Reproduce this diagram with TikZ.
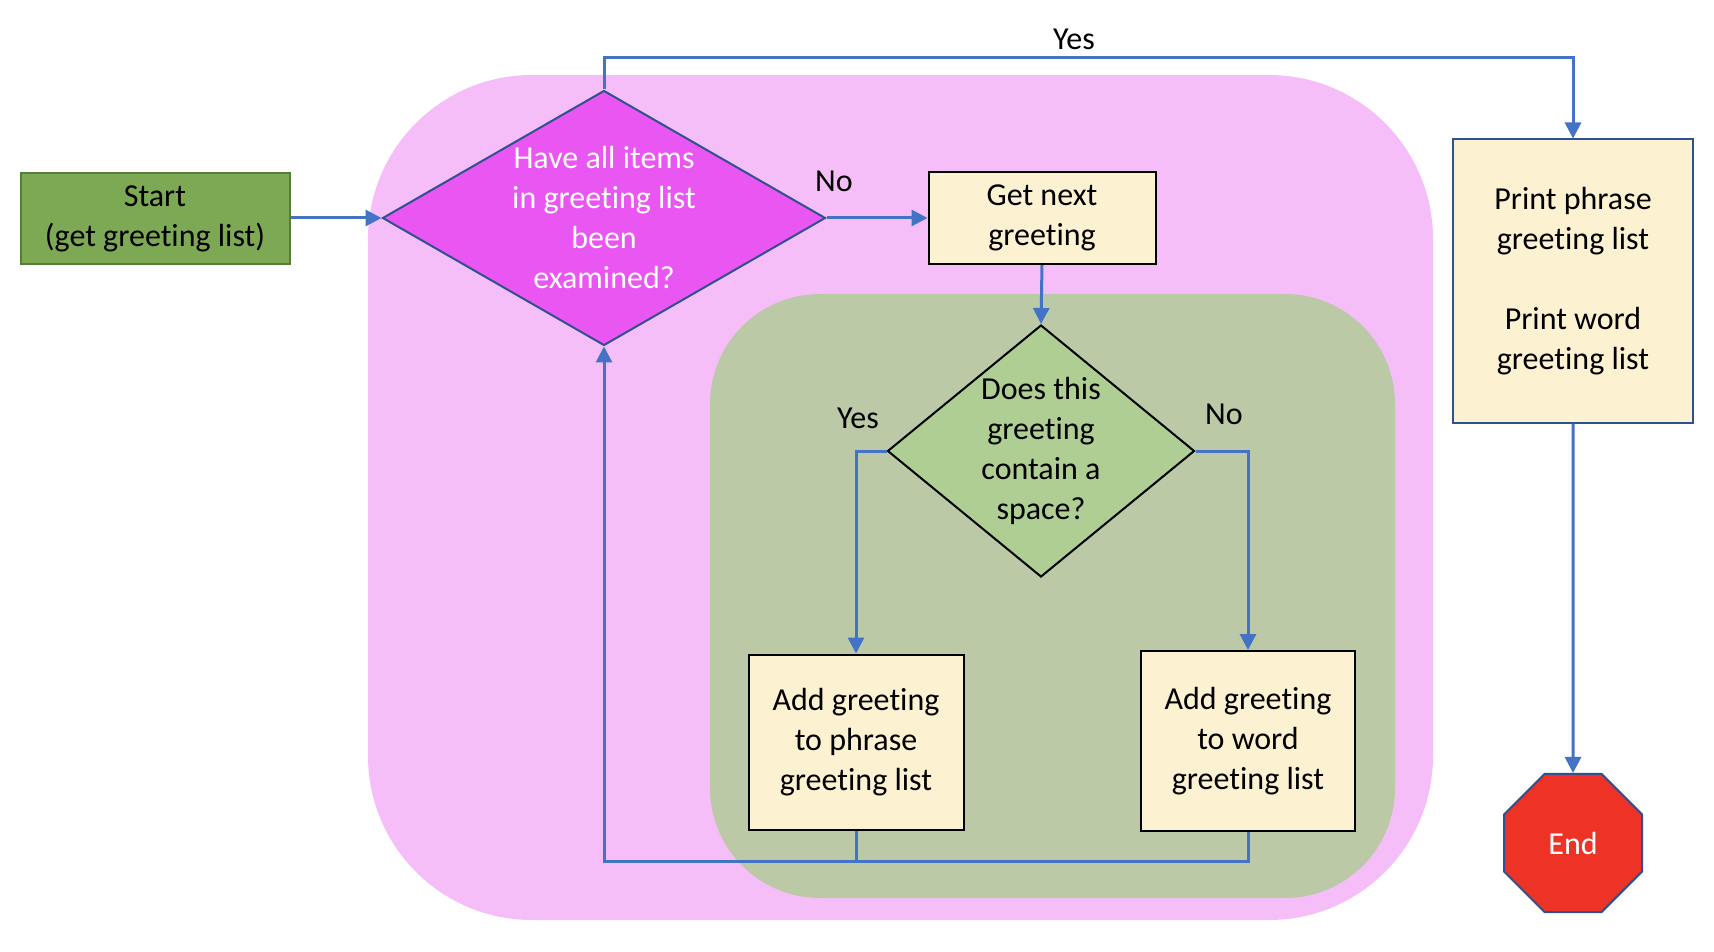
\documentclass[tikz,border=0pt]{standalone}
\usepackage{fontspec}
\setmainfont{Carlito}[Ligatures={NoCommon,NoContextual}]
\usepackage{xcolor}
\usetikzlibrary{shapes.geometric,arrows.meta,positioning,calc}

\definecolor{arrowblue}{HTML}{4472C4}
\definecolor{blueborder}{HTML}{2F528F}
\definecolor{pinkbg}{HTML}{F5BEF8}
\definecolor{greenbg}{HTML}{BCC9A6}
\definecolor{startgreen}{HTML}{7EA954}
\definecolor{startborder}{HTML}{557F38}
\definecolor{magentafill}{HTML}{EA56F2}
\definecolor{diamondgreen}{HTML}{AECE93}
\definecolor{cream}{HTML}{FCF1D0}
\definecolor{endred}{HTML}{EC3325}

\begin{document}
\begin{tikzpicture}[x=0.5pt, y=-0.5pt,
    txt/.style={font=\fontsize{16}{20}\selectfont, align=center},
    box/.style={rectangle, draw=#1, fill=cream, line width=1pt, txt, inner sep=0pt},
    box/.default=black,
    decision/.style={diamond, draw=#1, line width=1pt, txt, inner sep=-4pt},
    flow/.style={-{Triangle[length=8pt,width=8pt]}, draw=arrowblue, line width=1.5pt}
]
\useasboundingbox (0,0) rectangle (1714,952);

% Loop regions
\fill[pinkbg, rounded corners=82pt] (368,75) rectangle (1433,920);
\fill[greenbg, rounded corners=55pt] (710,294) rectangle (1395,898);

% Outer loop
\node[box=startborder, fill=startgreen, minimum width=134.5pt, minimum height=45.5pt] (start) at (155,219) {Start\\(get greeting list)};
\node[decision=blueborder, fill=magentafill, text=white, aspect=1.74, minimum width=221.5pt, minimum height=127.5pt] (allseen) at (604,218) {Have all items\\in greeting list\\been\\examined?};
\node[box, minimum width=113.5pt, minimum height=46pt] (getnext) at (1042,218) {Get next\\greeting};

% Inner test
\node[decision=black, fill=diamondgreen, aspect=1.22, minimum width=153.5pt, minimum height=126pt] (hasspace) at (1041,451) {Does this\\greeting\\contain a\\space?};
\node[box, minimum width=107.5pt, minimum height=87.5pt] (phrase) at (856,742) {Add greeting\\to phrase\\greeting list};
\node[box, minimum width=107pt, minimum height=90pt] (word) at (1248,741) {Add greeting\\to word\\greeting list};

% Output
\node[box=blueborder, minimum width=120pt, minimum height=141.5pt] (print) at (1573,281) {Print phrase\\greeting list\\[20pt]Print word\\greeting list};
\node[regular polygon, regular polygon sides=8, draw=blueborder, fill=endred, line width=1pt, minimum size=74.7pt, inner sep=0pt, txt, text=white] (end) at (1573,843) {End};

% Branch labels
\node[txt] (yesall) at (1074,39) {Yes};
\node[txt] (noall) at (834,181) {No};
\node[txt] (yesspace) at (858,418) {Yes};
\node[txt] (nospace) at (1224,414) {No};

% Connectors
\coordinate (yesturn) at (1573,58);
\coordinate (loopback) at (604,861);
\draw[flow] (start.east |- allseen.west) -- (allseen.west);
\draw[flow] (allseen.east) -- (getnext.west);
\draw[flow] (allseen.north) |- (yesturn) -- (print.north);
\draw[flow] (getnext.south) -- (hasspace.north);
\draw[flow] (hasspace.west) -| (phrase.north);
\draw[flow] (hasspace.east) -| (word.north);
\draw[flow] (word.south) |- (loopback) -- (allseen.south);
\draw[flow, -] (phrase.south) -- (phrase.south |- loopback);
\draw[flow] (print.south) -- (end.north);
\end{tikzpicture}
\end{document}
